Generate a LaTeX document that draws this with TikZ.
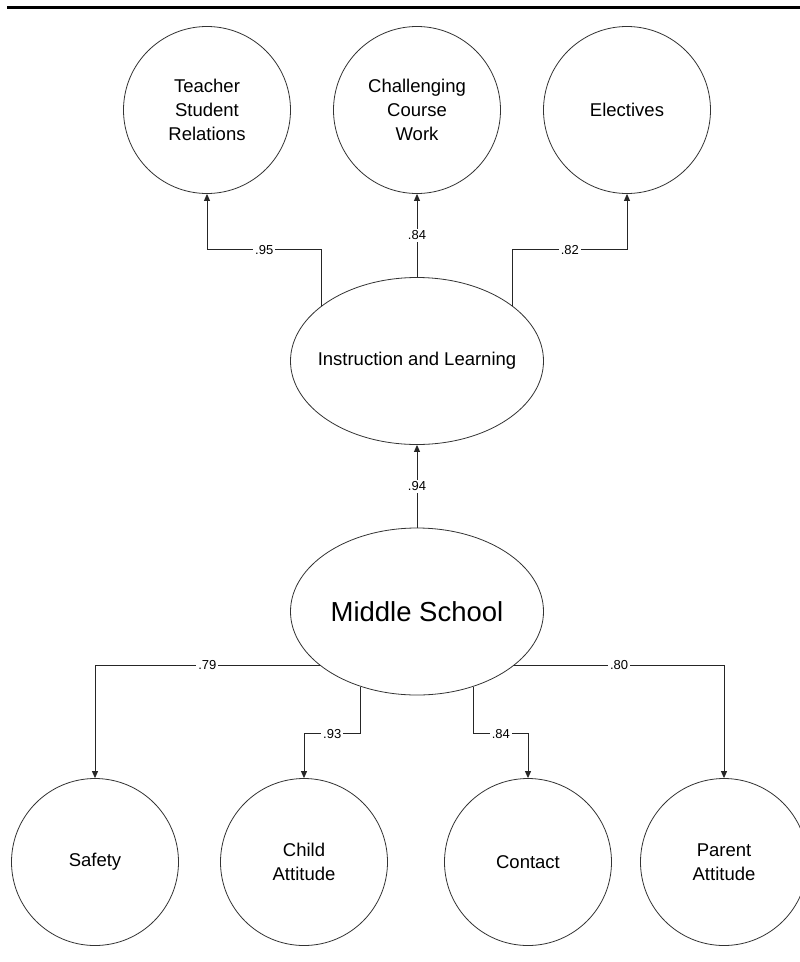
\documentclass[tikz,border=0pt]{standalone}
\usepackage{fontspec}
\setmainfont{Liberation Sans}
\usetikzlibrary{shapes.geometric,arrows.meta}
\begin{document}
\begin{tikzpicture}[x=1pt,y=-1pt,
  factor/.style={circle,draw=black!80,line width=0.8pt,fill=white,
    minimum size=167pt,inner sep=0pt,align=center,
    font=\fontsize{18.5}{24}\selectfont},
  latent/.style={ellipse,draw=black!80,line width=0.8pt,fill=white,
    minimum width=253pt,minimum height=167pt,inner sep=0pt,align=center},
  loading/.style={draw=black!85,line width=0.9pt,
    -{Triangle[length=7pt,width=6pt]}},
  coef/.style={fill=white,inner sep=2pt,font=\fontsize{13}{15}\selectfont}
]
\useasboundingbox (0,0) rectangle (800,962);

% rule across the top
\draw[line width=3.3pt] (7,7.5) -- (800,7.5);

% first-order factors, top row
\node[factor] (tsr) at (207,110) {Teacher\\Student\\Relations};
\node[factor] (ccw) at (417,110) {Challenging\\Course\\Work};
\node[factor] (ele) at (627,110) {Electives};

% second-order factor (text set as a centred label so the wide
% caption does not enlarge the ellipse)
\node[latent,label={[font=\fontsize{18.5}{24}\selectfont]center:Instruction and Learning}]
  (il) at (417,361) {};

% higher-order factor
\node[latent,font=\fontsize{27.5}{32}\selectfont] (ms) at (417,611.5) {Middle School};

% first-order factors, bottom row
\node[factor] (saf) at (95,862) {Safety};
\node[factor] (cha) at (304,862) {Child\\Attitude};
\node[factor] (con) at (528,862) {Contact};
\node[factor] (par) at (724,862) {Parent\\Attitude};

% loadings of Instruction and Learning
\draw[loading] (il.150) -- ++(0,-56) -| (tsr.south) node[coef,pos=.25] {.95};
\draw[loading] (il.north) -- (ccw.south) node[coef,midway] {.84};
\draw[loading] (il.30) -- ++(0,-56) -| (ele.south) node[coef,pos=.25] {.82};

% Middle School to Instruction and Learning
\draw[loading] (ms.north) -- (il.south) node[coef,midway] {.94};

% loadings of Middle School
\draw[loading] (ms.209) -| (saf.north) node[coef,pos=.25] {.79};
\draw[loading] (ms.233) -- ++(0,47) -| (cha.north) node[coef,pos=.25] {.93};
\draw[loading] (ms.307) -- ++(0,47) -| (con.north) node[coef,pos=.25] {.84};
\draw[loading] (ms.331) -| (par.north) node[coef,pos=.25] {.80};
\end{tikzpicture}
\end{document}
